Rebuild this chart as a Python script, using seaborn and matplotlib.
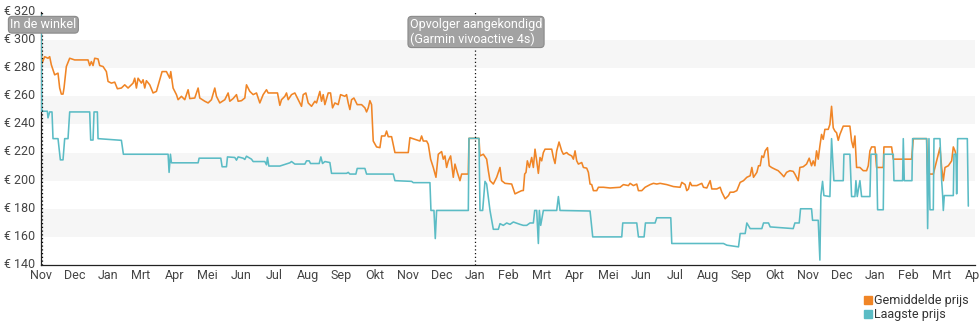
import matplotlib
matplotlib.use("Agg")
import matplotlib.pyplot as plt
import matplotlib.transforms as mtransforms
from matplotlib.lines import Line2D
import pandas as pd
import seaborn as sns

# Month labels along the axis (one tick per month, Nov .. Apr)
month_labels = ["Nov", "Dec", "Jan", "Mrt", "Apr", "Mei", "Jun", "Jul", "Aug", "Sep",
                "Okt", "Nov", "Dec", "Jan", "Feb", "Mrt", "Apr", "Mei", "Jun", "Jul",
                "Aug", "Sep", "Okt", "Nov", "Dec", "Jan", "Feb", "Mrt", "Apr"]

price_ticks = [140, 160, 180, 200, 220, 240, 260, 280, 300, 320]

# Average price (months since first tick, euro)
avg_month = [0.0, 0.02, 0.03, 0.11, 0.21, 0.26, 0.31, 0.41, 0.51, 0.56, 0.61, 0.66, 0.69, 0.76,
             0.86, 1.01, 1.41, 1.46, 1.51, 1.56, 1.61, 1.71, 1.76, 1.86, 1.96, 2.01, 2.11, 2.21,
             2.29, 2.41, 2.51, 2.61, 2.76, 2.81, 2.86, 2.91, 3.01, 3.06, 3.11, 3.16, 3.26, 3.36,
             3.46, 3.56, 3.63, 3.76, 3.86, 3.89, 3.96, 4.06, 4.11, 4.21, 4.31, 4.41, 4.46, 4.61,
             4.71, 4.76, 4.91, 5.01, 5.11, 5.21, 5.26, 5.36, 5.51, 5.61, 5.66, 5.76, 5.86, 5.91,
             6.01, 6.11, 6.16, 6.26, 6.36, 6.46, 6.56, 6.66, 6.76, 6.81, 6.91, 7.09, 7.16, 7.21,
             7.31, 7.36, 7.41, 7.51, 7.61, 7.71, 7.81, 7.86, 7.94, 8.01, 8.11, 8.21, 8.26, 8.36,
             8.41, 8.46, 8.51, 8.61, 8.68, 8.74, 8.81, 8.91, 8.98, 9.11, 9.16, 9.21, 9.26, 9.31,
             9.38, 9.48, 9.61, 9.71, 9.76, 9.81, 9.86, 9.91, 9.96, 10.06, 10.16, 10.21, 10.31,
             10.36, 10.41, 10.51, 10.61, 11.01, 11.06, 11.21, 11.36, 11.41, 11.46, 11.56, 11.61,
             11.68, 11.76, 11.84, 11.91, 12.01, 12.06, 12.11, 12.16, 12.21, 12.28, 12.36, 12.41,
             12.48, 12.56, 12.61, 12.81, 12.83, 13.13, 13.16, 13.26, 13.36, 13.41, 13.46, 13.56,
             13.66, 13.76, 13.81, 13.91, 14.11, 14.21, 14.31, 14.41, 14.46, 14.5, 14.54, 14.58,
             14.64, 14.71, 14.76, 14.81, 14.86, 14.91, 14.96, 15.01, 15.06, 15.11, 15.31, 15.36,
             15.41, 15.46, 15.53, 15.61, 15.66, 15.76, 15.81, 15.91, 15.96, 16.01, 16.06, 16.11,
             16.21, 16.26, 16.36, 16.41, 16.46, 16.51, 16.56, 16.66, 16.71, 16.86, 17.06, 17.36,
             17.46, 17.61, 17.66, 17.76, 17.86, 17.91, 18.01, 18.11, 18.26, 18.36, 18.46, 18.56,
             18.76, 18.96, 19.16, 19.21, 19.31, 19.36, 19.41, 19.46, 19.51, 19.66, 19.81, 19.86,
             19.96, 20.06, 20.11, 20.26, 20.36, 20.41, 20.51, 20.61, 20.66, 20.76, 20.86, 20.96,
             21.06, 21.16, 21.26, 21.31, 21.36, 21.46, 21.51, 21.56, 21.61, 21.66, 21.71, 21.78,
             21.83, 21.9, 22.0, 22.1, 22.2, 22.27, 22.35, 22.45, 22.55, 22.6, 22.7, 22.75, 22.85,
             22.95, 23.03, 23.1, 23.15, 23.2, 23.25, 23.3, 23.35, 23.4, 23.45, 23.5, 23.6, 23.65,
             23.7, 23.75, 23.8, 23.85, 23.9, 23.95, 24.05, 24.25, 24.3, 24.35, 24.4, 24.45, 24.55,
             24.65, 24.75, 24.8, 24.85, 24.9, 25.0, 25.05, 25.25, 25.27, 25.5, 25.55, 26.1, 26.15,
             26.55, 26.58, 26.75, 26.95, 27.0, 27.05, 27.1, 27.2, 27.3, 27.35, 27.4, 27.45]
avg_price = [300, 284, 283.5, 288.2, 287.1, 288.2, 282.4, 275.3, 276.5, 265.9, 261.6, 261.6, 265.9,
             281.2, 287.1, 285.9, 285.9, 281.9, 284.7, 281.9, 287.1, 286.6, 281.9, 281.2, 277.6,
             270.6, 269.4, 270.1, 265.4, 265.9, 268.2, 265.9, 269.4, 272.9, 265.9, 272.9, 269.4,
             271.8, 265.9, 271.1, 268.2, 262.4, 263.5, 271.8, 277.6, 277.6, 272.9, 277.6, 265.9,
             261.2, 257.6, 260, 257.6, 264.7, 258.4, 258.8, 265.9, 258.8, 256.5, 255.3, 257.6,
             265.9, 260, 255.3, 257.6, 262.4, 256.5, 258.4, 261.2, 256.5, 256.9, 258.8, 268.2,
             263.5, 261.2, 262.4, 255.3, 261.2, 264.7, 262.4, 262.4, 262.4, 253.6, 257.6, 260,
             262.4, 257.6, 261.2, 262.4, 257.6, 252.9, 261.2, 262.4, 255.3, 252.9, 256.5, 255.3,
             263.5, 256.5, 261.2, 254.1, 262.4, 262.4, 251.8, 255.3, 254.1, 261.2, 260, 261.2,
             255.3, 250.6, 257.6, 258.8, 254.1, 254.1, 251.8, 248.9, 251.8, 256.9, 254.1, 228.2,
             224, 223.5, 231.8, 231.8, 235.3, 231.3, 231.3, 220, 220, 230.6, 229.4, 228.2, 231.8,
             228.2, 228.2, 225.9, 215.3, 209.4, 202.4, 218.8, 220.7, 215.3, 217.6, 209.4, 214.1,
             217.6, 202.4, 211.8, 205.9, 200, 204.7, 204.7, 230.1, 230.1, 217.6, 218.8, 215.3,
             207.1, 200, 197.6, 202.4, 209.4, 200, 198.1, 197.6, 190.6, 191.8, 192.9, 193, 204.7,
             205.9, 214.1, 209.4, 216.5, 209.4, 222.4, 214.1, 205.2, 216.5, 214.1, 220, 222.4,
             222.4, 216.5, 212.2, 221.2, 227.5, 221.2, 218.8, 220, 218.8, 217.6, 215.3, 221.2,
             214.1, 211.8, 212.9, 209.4, 208.9, 205.9, 197.6, 197.2, 192.9, 192.9, 195.3, 195.3,
             194.8, 195.3, 197.2, 196.5, 198.1, 196.5, 197.6, 192.9, 192.9, 195.3, 197.2, 198.1,
             197.6, 198.1, 197.2, 195.8, 195.3, 198.8, 197.2, 192.9, 194.1, 198.8, 196.5, 196.5,
             198.1, 195.3, 194.8, 200, 194.1, 194.1, 195.3, 191.8, 187.1, 189.4, 191.8, 191.8,
             192.9, 198.8, 200, 202.4, 203.5, 209.4, 202.4, 205.9, 210.6, 210.6, 217.6, 216.5,
             221.2, 223.5, 210.6, 209.4, 208.2, 207.1, 204.7, 202.8, 205.9, 207.1, 206.6, 204.7,
             200, 209.4, 209.9, 211.8, 216, 210.6, 214.1, 210.6, 221.2, 215.3, 224.7, 232.9, 229.4,
             236.5, 236.5, 240, 252.9, 237.6, 235.3, 234.1, 228.7, 232.9, 238.8, 238.8, 228.2,
             223.5, 231.8, 209.4, 209.4, 207.1, 207.1, 210.6, 221.2, 224, 224, 209.4, 209.4, 224,
             224, 215.3, 215.3, 229.9, 229.9, 204.7, 204.7, 223.5, 209.4, 200, 209.4, 210.6,
             214.1, 224, 221.2, 216.5]

# Lowest price (months since first tick, euro)
low_month = [0.0, 0.02, 0.19, 0.21, 0.26, 0.33, 0.36, 0.51, 0.58, 0.66, 0.71, 0.81, 0.86, 1.46,
             1.49, 1.56, 1.59, 1.69, 1.71, 2.01, 2.41, 2.47, 3.81, 3.84, 3.88, 3.91, 4.71, 4.74,
             5.39, 5.43, 5.56, 5.59, 5.81, 5.86, 5.91, 6.06, 6.11, 6.16, 6.31, 6.36, 6.71, 6.76,
             6.79, 6.83, 7.16, 7.46, 7.51, 7.61, 7.91, 7.96, 8.04, 8.08, 8.34, 8.39, 8.44, 8.51,
             8.66, 8.71, 9.16, 9.21, 9.26, 9.44, 9.48, 9.71, 9.76, 10.56, 10.61, 11.11, 11.16,
             11.66, 11.69, 11.78, 11.82, 11.86, 12.81, 12.83, 13.13, 13.16, 13.24, 13.31, 13.36,
             13.46, 13.56, 13.71, 13.76, 13.86, 13.96, 14.06, 14.16, 14.36, 14.46, 14.56, 14.66,
             14.76, 14.8, 14.86, 14.91, 14.94, 14.98, 15.06, 15.46, 15.51, 15.56, 16.46, 16.54,
             17.41, 17.44, 17.86, 17.91, 18.08, 18.12, 18.41, 18.46, 18.88, 18.91, 20.46, 20.56,
             20.91, 20.96, 21.11, 21.16, 21.26, 21.61, 21.66, 21.81, 21.86, 22.55, 22.6, 22.73,
             22.77, 23.1, 23.13, 23.3, 23.35, 23.38, 23.43, 23.47, 23.65, 23.7, 23.77, 24.05,
             24.07, 24.25, 24.3, 24.4, 24.43, 24.47, 24.55, 24.6, 24.85, 24.88, 25.05, 25.08,
             25.25, 25.27, 25.55, 25.57, 25.83, 25.85, 25.88, 26.11, 26.13, 26.55, 26.58, 26.62,
             26.65, 26.75, 26.77, 26.95, 27.0, 27.03, 27.05, 27.08, 27.35, 27.37, 27.43, 27.45,
             27.48, 27.77, 27.8]
low_price = [318, 249.4, 249.4, 244.7, 248.9, 248.9, 229.9, 229.9, 214.8, 214.8, 229.9, 229.9,
             248.9, 248.9, 228.9, 228.9, 248.9, 248.9, 229.9, 229.4, 228.7, 218.8, 218.8, 205.9,
             218.8, 212.7, 212.7, 216, 216, 209.9, 209.9, 216.9, 216.5, 214.6, 216.9, 216, 215.1,
             217.4, 215.3, 213.6, 213.6, 211.3, 216.5, 210.4, 210.4, 212.7, 213.6, 211.8, 211.8,
             214.1, 214.1, 212.2, 212.2, 216.9, 212.2, 213.6, 212.9, 205.2, 205.2, 205.9, 204.7,
             204.7, 208.7, 208.7, 204.7, 204.7, 200, 199.5, 198.6, 198.6, 178.8, 178.8, 158.8,
             178.8, 178.8, 230.1, 230.1, 178.8, 178.8, 199.5, 197.6, 178.8, 165.4, 165.4, 169.4,
             168.2, 169.9, 168.9, 170.6, 168.9, 168.2, 168.2, 169.9, 169.9, 178.8, 178.8, 155.3,
             178.8, 168.2, 178.8, 178.8, 188.7, 178.8, 178.4, 160, 160, 169.9, 169.9, 160, 160,
             169.9, 169.9, 173.6, 173.6, 155.3, 155.3, 154.1, 152.9, 162.4, 162.4, 169.9, 165.9,
             165.9, 169.9, 169.9, 167.1, 165.9, 169.9, 169.9, 180, 180, 171.8, 171.8, 143.5, 189.4,
             199.5, 189.4, 188.7, 229.9, 200, 200, 218.8, 218.8, 188.7, 188.7, 200, 188.7, 200,
             188.7, 188.7, 218.8, 218.8, 179.3, 179.3, 218.8, 218.8, 200, 200, 229.9, 200, 200,
             229.9, 229.9, 165.9, 229.9, 179.3, 179.3, 229.9, 229.9, 200, 189.4, 178.8, 189.4,
             189.4, 218.8, 218.8, 190.6, 229.9, 229.9, 181.9]

# Event markers
events = [(0.03, "In de winkel"), (13.0, "Opvolger aangekondigd\n(Garmin vivoactive 4s)")]

series_names = ["Gemiddelde prijs", "Laagste prijs"]
series_colors = ["#f08526", "#5bbcc5"]

df = pd.concat([
    pd.DataFrame({"maand": avg_month, "prijs": avg_price, "reeks": series_names[0]}),
    pd.DataFrame({"maand": low_month, "prijs": low_price, "reeks": series_names[1]}),
], ignore_index=True)

sns.set_style("white")
plt.rcParams["font.family"] = ["Roboto", "DejaVu Sans"]

fig = plt.figure(figsize=(9.8, 3.25), dpi=100)
ax = fig.add_axes([41 / 980, 1 - 265 / 325, 934 / 980, 253 / 325])

# alternating horizontal bands
for lo in (160, 200, 240, 280):
    ax.axhspan(lo, lo + 20, color="#f6f6f6", zorder=0, lw=0)

sns.lineplot(data=df, x="maand", y="prijs", hue="reeks", hue_order=series_names,
             palette=series_colors, sort=False, estimator=None, linewidth=1.15,
             legend=False, ax=ax, zorder=3)

ax.set_xlim(0, len(month_labels) - 1)
ax.set_ylim(price_ticks[0], price_ticks[-1])
ax.set_xticks(range(len(month_labels)))
ax.set_xticklabels(month_labels)
ax.set_yticks(price_ticks)
ax.set_yticklabels([f"€ {v}" for v in price_ticks])
ax.set_xlabel("")
ax.set_ylabel("")
ax.tick_params(axis="both", direction="inout", length=6, width=0.9, colors="#222222",
               labelcolor="#444444", labelsize=9, pad=1)
ax.tick_params(axis="x", pad=0)

# price labels sit slightly above their ticks
lift = mtransforms.ScaledTranslation(0, 1.5 / 72, fig.dpi_scale_trans)
for lbl in ax.get_yticklabels():
    lbl.set_transform(lbl.get_transform() + lift)

for side in ("top", "right"):
    ax.spines[side].set_visible(False)
for side in ("left", "bottom"):
    ax.spines[side].set_color("#222222")
    ax.spines[side].set_linewidth(0.9)

trans = mtransforms.blended_transform_factory(ax.transData, ax.transAxes)
for xpos, label in events:
    ax.axvline(xpos, color="#111111", linestyle=(0, (1, 2)), linewidth=0.9, zorder=4)
    ax.annotate(label, xy=(xpos, 1.0), xycoords=trans, xytext=(1, -4.5),
                textcoords="offset points", ha="center", va="top", multialignment="left",
                color="white", fontsize=9, zorder=6, linespacing=1.1,
                bbox=dict(boxstyle="round,pad=0.15,rounding_size=0.3", fc="#a2a2a2",
                          ec="#8a8a8a", lw=0.8))

handles = [Line2D([], [], marker="s", linestyle="none", markersize=5.5,
                  color=c) for c in series_colors]
fig.legend(handles, series_names, loc="upper right", bbox_to_anchor=(0.995, 1 - 288 / 325),
           frameon=False, fontsize=9, handlelength=0.6, handletextpad=0.2,
           labelspacing=0.05, borderpad=0, labelcolor="#333333")

fig.savefig("out.png", dpi=100)
